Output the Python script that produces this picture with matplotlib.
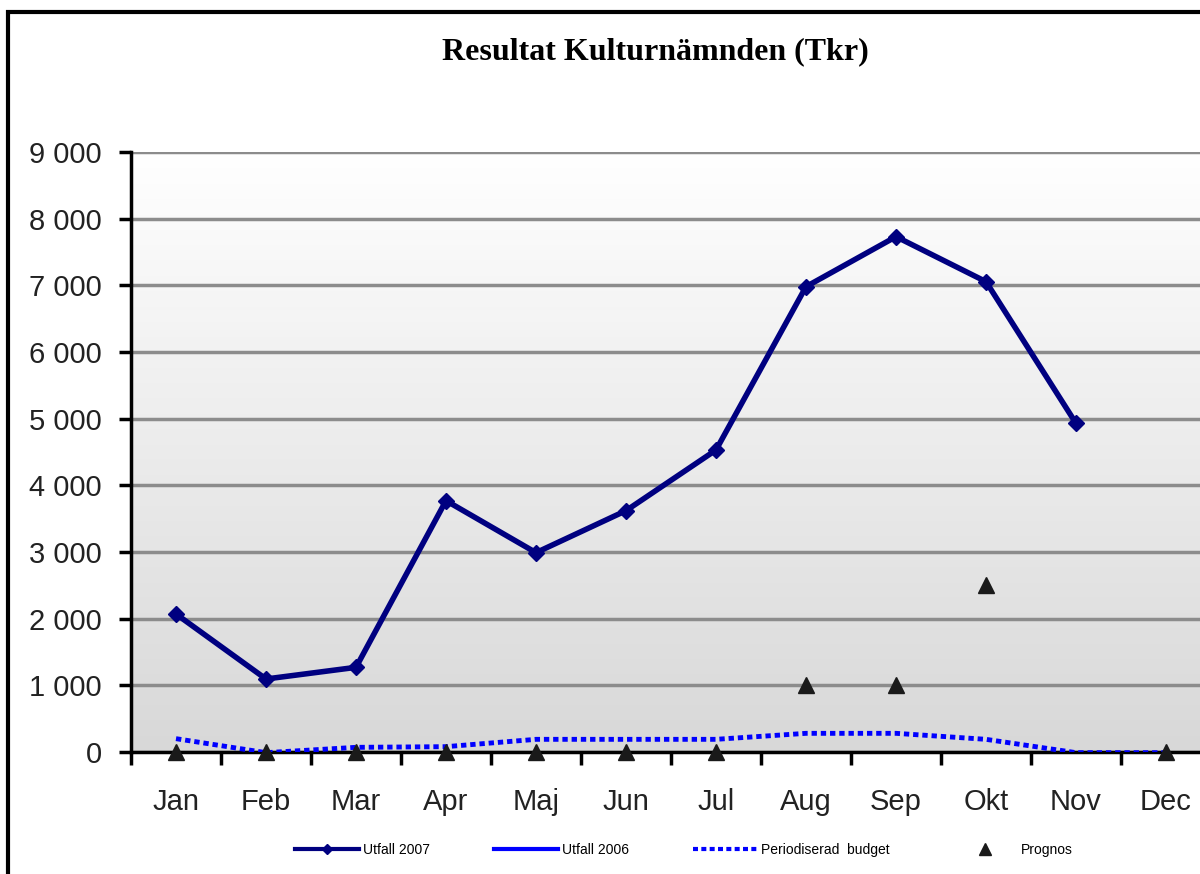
import numpy as np
import matplotlib.pyplot as plt
from matplotlib.lines import Line2D
from matplotlib.patches import Rectangle

manader = ["Jan", "Feb", "Mar", "Apr", "Maj", "Jun", "Jul", "Aug", "Sep", "Okt", "Nov", "Dec"]
utfall_2007 = [2070, 1095, 1270, 3770, 2990, 3620, 4530, 6980, 7730, 7055, 4930]
utfall_2006 = []
budget = [200, -10, 70, 80, 190, 190, 190, 280, 280, 190, -10, -10]
prognos = [0, 0, 0, 0, 0, 0, 0, 1000, 1000, 2500, None, 0]

plt.rcParams['font.family'] = ['Liberation Sans', 'DejaVu Sans']

fig = plt.figure(figsize=(12, 8.74), dpi=100)
ax = fig.add_axes([131 / 1200, 1 - 752 / 874, 1080 / 1200, 600 / 874])

# gradient bakgrund
grad = np.linspace(0, 1, 256).reshape(-1, 1)
ax.imshow(grad, cmap=plt.matplotlib.colors.LinearSegmentedColormap.from_list("g", ["#d8d8d8", "#ffffff"]),
          extent=[0, 1, 0, 1], transform=ax.transAxes, aspect="auto", origin="lower", zorder=0)

x = np.arange(len(manader))
ax.plot(x[:len(utfall_2007)], utfall_2007, color="#000080", lw=4, marker="D", ms=8, zorder=4)
ax.plot(x, budget, color="#0000ff", lw=3.5, ls=(0, (1.1, 0.8)), zorder=3)
px = [i for i, v in enumerate(prognos) if v is not None]
py = [v for v in prognos if v is not None]
ax.plot(px, py, ls="none", marker="^", ms=12, color="#1a1a1a", zorder=5, clip_on=False)

ax.set_xlim(-0.5, 11.5)
ax.set_ylim(0, 9000)
ax.set_yticks(range(0, 9001, 1000))
ax.set_yticklabels([f"{v:,}".replace(",", " ") for v in range(0, 9001, 1000)], fontsize=21, color="#222222")
ax.set_xticks(x)
ax.set_xticklabels(manader, fontsize=21, color="#222222")
ax.set_xticks(np.arange(-0.5, 12, 1), minor=True)
ax.tick_params(axis="x", which="major", length=0, pad=26)
ax.tick_params(axis="x", which="minor", length=9, width=2.5, direction="out")
ax.tick_params(axis="y", length=9, width=2.5, direction="out", pad=12)
ax.yaxis.grid(True, color="#8c8c8c", lw=2.5, zorder=1)
ax.set_axisbelow(True)
for s in ["top", "right"]:
    ax.spines[s].set_visible(False)
ax.spines["left"].set_linewidth(2.5)
ax.spines["bottom"].set_linewidth(2.5)

fig.text(655 / 1200, 1 - 52 / 874, "Resultat Kulturnämnden (Tkr)", ha="center", va="center",
         fontsize=23, fontweight="bold", family="Liberation Serif")

handles = [
    Line2D([], [], color="#000080", lw=3, marker="D", ms=5),
    Line2D([], [], color="#0000ff", lw=3),
    Line2D([], [], color="#0000ff", lw=3, ls=(0, (1.2, 0.8))),
    Line2D([], [], ls="none", marker="^", ms=8, color="#1a1a1a"),
]
labels = ["Utfall 2007", "Utfall 2006", "Periodiserad  budget", "Prognos"]
fig.legend(handles, labels, loc="center", bbox_to_anchor=(684 / 1200, 1 - 850 / 874), ncol=4,
           frameon=False, fontsize=10, handlelength=4.6, columnspacing=4.6, handletextpad=0.3)

# ram runt diagrammet
fig.add_artist(Rectangle((8 / 1200, -0.1), 1.2, 1 - 12 / 874 + 0.1, transform=fig.transFigure,
                         fill=False, lw=3, edgecolor="black"))

fig.savefig("out.png", dpi=100)
